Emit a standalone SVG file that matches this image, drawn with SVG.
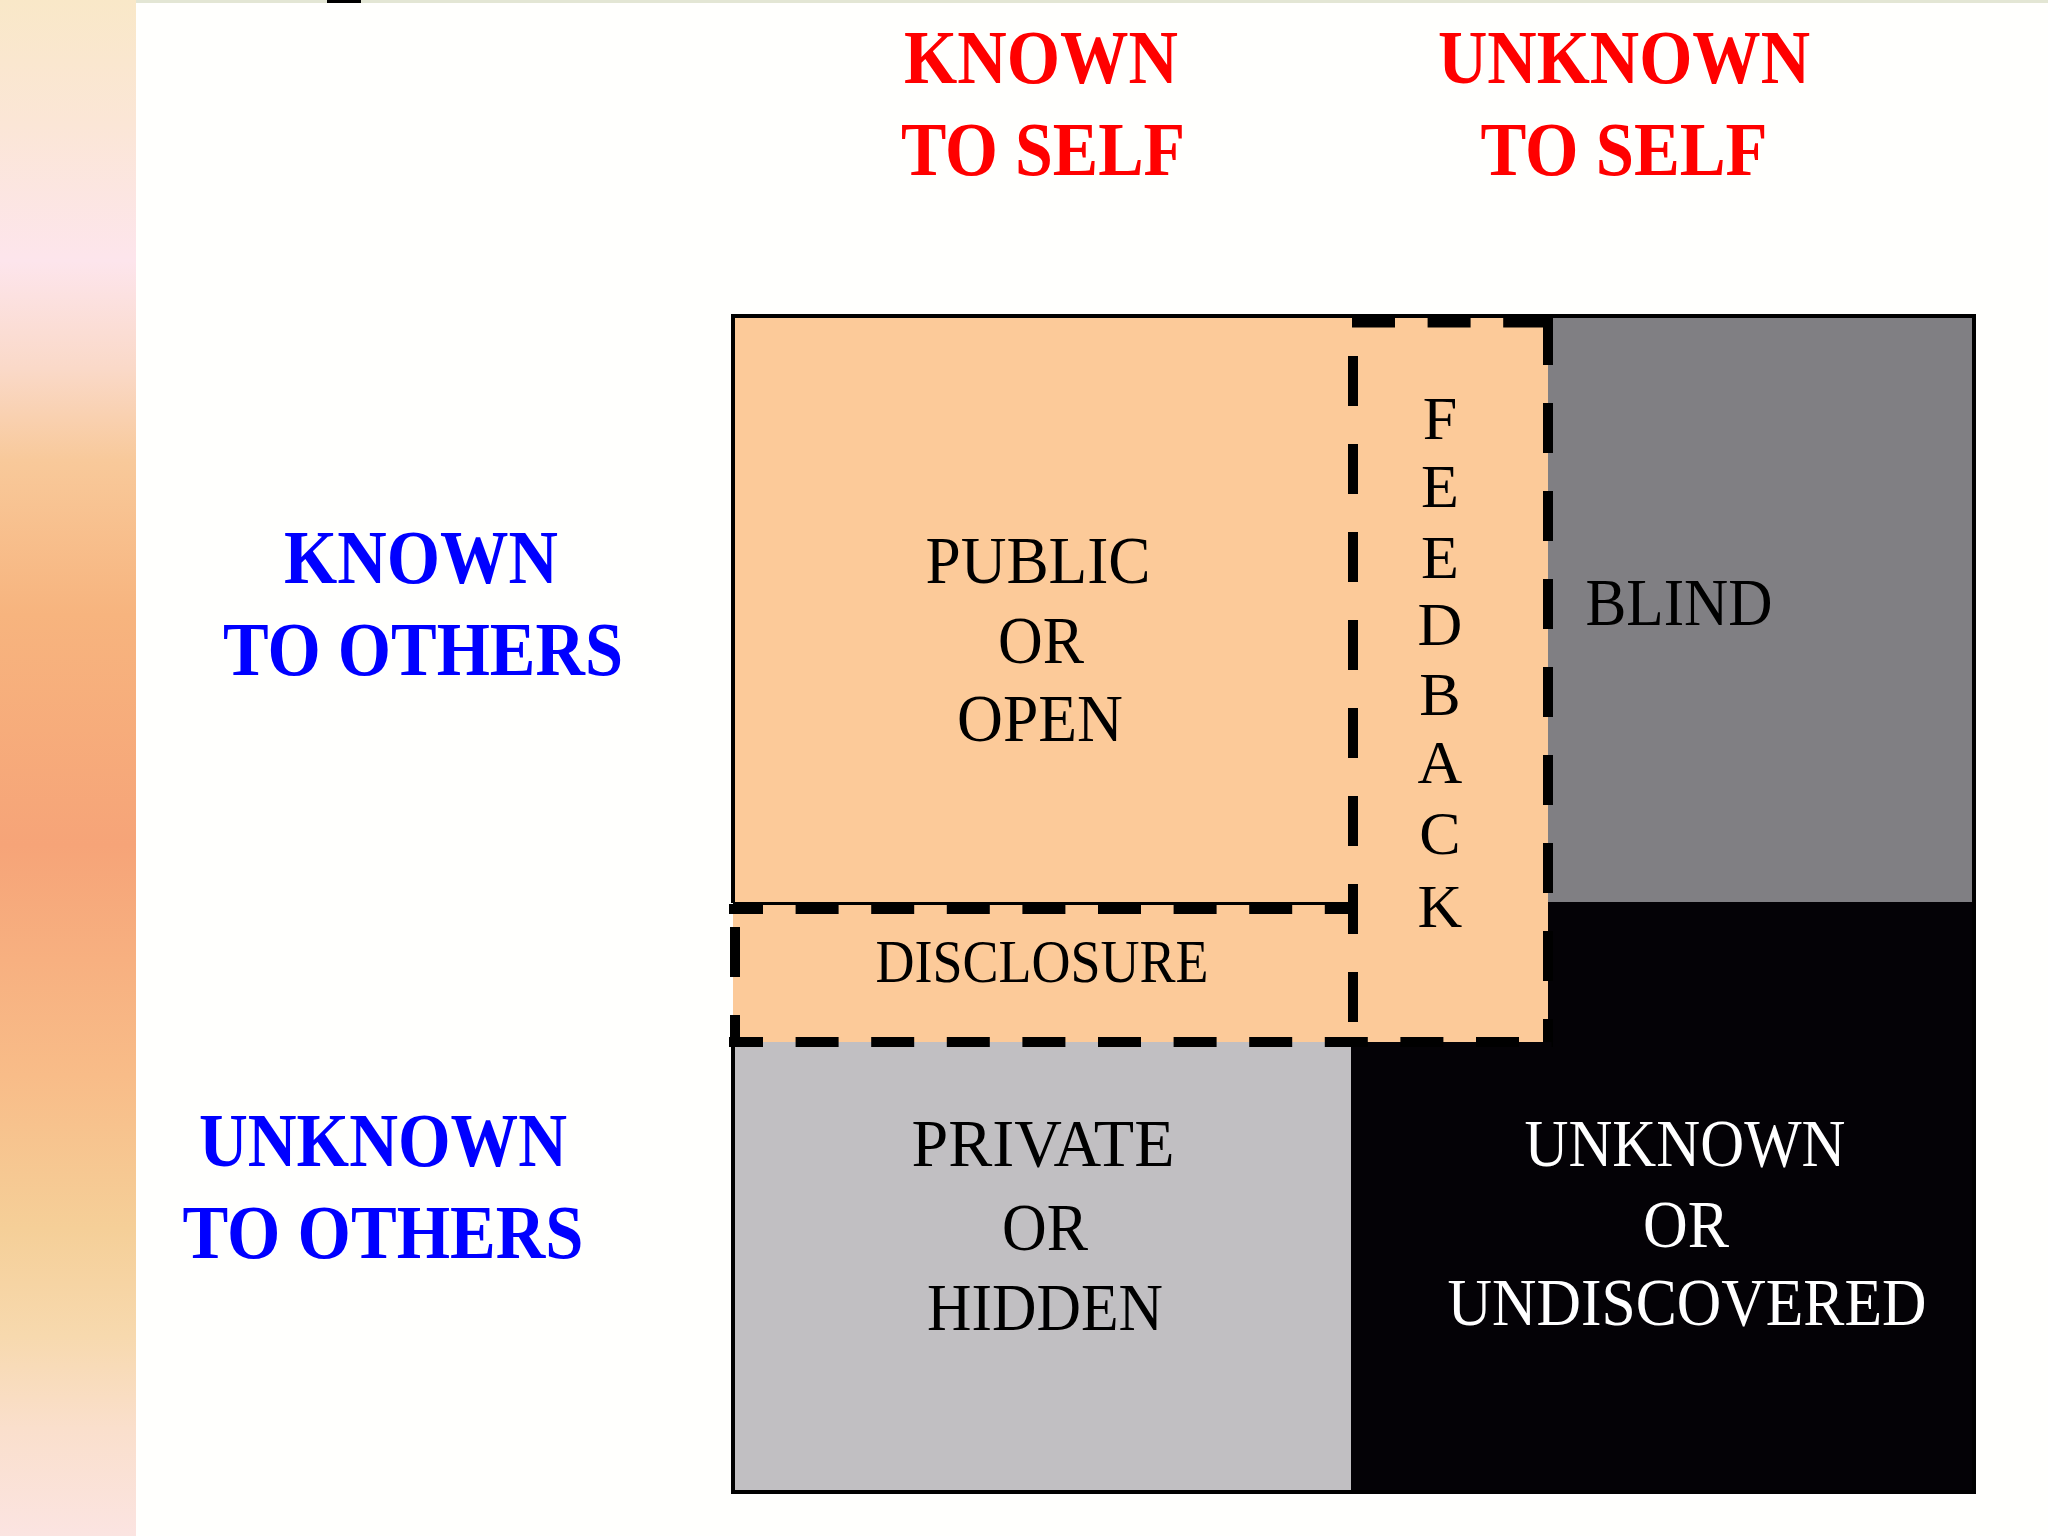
<svg xmlns="http://www.w3.org/2000/svg" width="2048" height="1536" viewBox="0 0 2048 1536">
  <defs>
    <linearGradient id="strip" x1="0" y1="0" x2="0" y2="1">
      <stop offset="0" stop-color="#F9E8C8"/>
      <stop offset="0.08" stop-color="#FBE6D6"/>
      <stop offset="0.17" stop-color="#FDE5EC"/>
      <stop offset="0.24" stop-color="#FAD9C8"/>
      <stop offset="0.30" stop-color="#F8C99A"/>
      <stop offset="0.40" stop-color="#F7B47E"/>
      <stop offset="0.55" stop-color="#F6A478"/>
      <stop offset="0.70" stop-color="#F8BC88"/>
      <stop offset="0.80" stop-color="#F5CF98"/>
      <stop offset="0.87" stop-color="#F7D9AE"/>
      <stop offset="0.93" stop-color="#FADFCC"/>
      <stop offset="1" stop-color="#FBE4E1"/>
    </linearGradient>
    <style>
      .hdr { font-family: "Liberation Serif", "Times New Roman", serif; font-weight: bold; font-size: 76px; text-anchor: middle; }
      .red { fill: #FF0000; }
      .blue { fill: #0000FF; }
      .q { font-family: "Liberation Serif", "Times New Roman", serif; font-size: 68px; text-anchor: middle; fill: #000000; }
      .fb { font-family: "Liberation Serif", "Times New Roman", serif; font-size: 62px; text-anchor: middle; fill: #000000; }
      .solid { fill: none; stroke: #000000; stroke-width: 4; }
      .dashv { fill: none; stroke: #000000; stroke-width: 10; stroke-dasharray: 50 38; }
      .dashh { fill: none; stroke: #000000; stroke-width: 10; stroke-dasharray: 43 32.6; }
    </style>
  </defs>

  <!-- background -->
  <rect x="0" y="0" width="2048" height="1536" fill="#FFFFFD"/>
  <rect x="0" y="0" width="136" height="1536" fill="url(#strip)"/>
  <rect x="136" y="0" width="1912" height="3" fill="#E3E6D4"/>
  <rect x="327" y="0" width="34" height="3" fill="#000000"/>

  <!-- column headers -->
  <g id="known-to-self">
    <text class="hdr red" x="1041" y="83" textLength="274" lengthAdjust="spacingAndGlyphs">KNOWN</text>
    <text class="hdr red" x="1043" y="175" textLength="284" lengthAdjust="spacingAndGlyphs">TO SELF</text>
  </g>
  <g id="unknown-to-self">
    <text class="hdr red" x="1624" y="83" textLength="372" lengthAdjust="spacingAndGlyphs">UNKNOWN</text>
    <text class="hdr red" x="1624" y="175" textLength="287" lengthAdjust="spacingAndGlyphs">TO SELF</text>
  </g>

  <!-- row headers -->
  <g id="known-to-others">
    <text class="hdr blue" x="421" y="583" textLength="274" lengthAdjust="spacingAndGlyphs">KNOWN</text>
    <text class="hdr blue" x="423" y="675" textLength="400" lengthAdjust="spacingAndGlyphs">TO OTHERS</text>
  </g>
  <g id="unknown-to-others">
    <text class="hdr blue" x="383" y="1166" textLength="368" lengthAdjust="spacingAndGlyphs">UNKNOWN</text>
    <text class="hdr blue" x="383" y="1258" textLength="401" lengthAdjust="spacingAndGlyphs">TO OTHERS</text>
  </g>

  <!-- quadrant fills -->
  <g id="unknown-quadrant">
    <rect x="1351" y="902" width="623" height="590" fill="#040206"/>
  </g>
  <g id="blind-quadrant">
    <rect x="1548" y="316" width="426" height="586" fill="#807F83"/>
  </g>
  <g id="private-quadrant">
    <rect x="733" y="1042" width="618" height="450" fill="#C1BFC2"/>
  </g>
  <g id="open-area">
    <rect x="733" y="316" width="815" height="726" fill="#FCCA99"/>
  </g>

  <!-- borders -->
  <g id="grid">
    <path class="solid" d="M733 903 V316 H1974 V1492 H733 V1042"/>
    <path fill="none" stroke="#000000" stroke-width="3" d="M733 903.5 H1353"/>
  </g>

  <g id="feedback">
    <path class="dashh" d="M1352 322.5 H1554"/>
    <path class="dashv" d="M1353 356 V1042"/>
    <path class="dashv" d="M1548 315 V1042"/>
    <text class="fb" x="1440" y="439">F</text>
    <text class="fb" x="1440" y="507">E</text>
    <text class="fb" x="1440" y="578">E</text>
    <text class="fb" x="1440" y="645">D</text>
    <text class="fb" x="1440" y="715">B</text>
    <text class="fb" x="1440" y="783">A</text>
    <text class="fb" x="1440" y="854">C</text>
    <text class="fb" x="1440" y="927">K</text>
  </g>

  <g id="disclosure">
    <path class="dashh" stroke-dashoffset="9" d="M729 909 H1353"/>
    <path class="dashv" d="M735 927 V1047"/>
    <path class="dashh" stroke-dashoffset="9" d="M729 1042 H1553"/>
    <text class="fb" x="1042" y="982" textLength="333" lengthAdjust="spacingAndGlyphs">DISCLOSURE</text>
  </g>

  <!-- quadrant labels -->
  <g id="public-label">
    <text class="q" x="1038" y="583" textLength="225" lengthAdjust="spacingAndGlyphs">PUBLIC</text>
    <text class="q" x="1041" y="663" textLength="86" lengthAdjust="spacingAndGlyphs">OR</text>
    <text class="q" x="1040" y="741" textLength="166" lengthAdjust="spacingAndGlyphs">OPEN</text>
  </g>
  <g id="blind-label">
    <text class="q" x="1679" y="625" textLength="187" lengthAdjust="spacingAndGlyphs">BLIND</text>
  </g>
  <g id="private-label">
    <text class="q" x="1043" y="1166" textLength="263" lengthAdjust="spacingAndGlyphs">PRIVATE</text>
    <text class="q" x="1045" y="1250" textLength="86" lengthAdjust="spacingAndGlyphs">OR</text>
    <text class="q" x="1045" y="1330" textLength="236" lengthAdjust="spacingAndGlyphs">HIDDEN</text>
  </g>
  <g id="unknown-label">
    <text class="q" x="1685" y="1166" fill="#FFFFFF" style="fill:#FFFFFF" textLength="321" lengthAdjust="spacingAndGlyphs">UNKNOWN</text>
    <text class="q" x="1686" y="1247" style="fill:#FFFFFF" textLength="86" lengthAdjust="spacingAndGlyphs">OR</text>
    <text class="q" x="1687" y="1325" style="fill:#FFFFFF" textLength="479" lengthAdjust="spacingAndGlyphs">UNDISCOVERED</text>
  </g>
</svg>
